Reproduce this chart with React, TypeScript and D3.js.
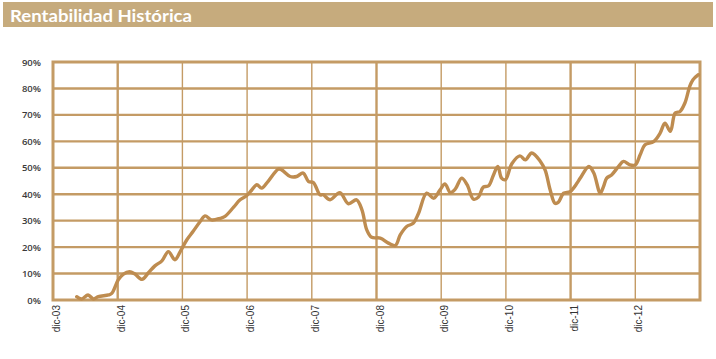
import React from "react";
import * as d3 from "d3";

const title = "Rentabilidad Histórica";
const tickLabels = ["dic-03", "dic-04", "dic-05", "dic-06", "dic-07", "dic-08", "dic-09", "dic-10", "dic-11", "dic-12"];
const yTicks = [0, 10, 20, 30, 40, 50, 60, 70, 80, 90];
// months elapsed since dic-03
const monthOffset = [
  4.4, 5.3, 6.5, 7.5, 8.4, 10.3, 10.9, 12.1, 13, 14.2, 15.2, 16.5, 17.7, 18.9, 20.2, 21.4, 22.6, 23.6,
  24.8, 26, 27.3, 28.2, 29.4, 31, 31.9, 33.5, 34.7, 35.9, 36.9, 37.8, 38.7, 39.9, 41.8, 42.4, 44, 45.2,
  46.4, 47.4, 48.3, 49.5, 50.1, 51.4, 53.2, 54.8, 56.3, 57.3, 58.2, 59.1, 60.7, 62.2, 63.5, 64.4, 65.6,
  66.8, 67.8, 69.3, 70.6, 71.8, 72.7, 73.7, 74.6, 75.8, 76.8, 78, 78.9, 79.8, 80.8, 81.7, 82.5, 83.2,
  83.9, 85.1, 86.6, 87.6, 88.8, 90.4, 91.3, 92.2, 93.1, 93.7, 94.7, 95.9, 97.2, 97.8, 99.4, 100.3, 101.5,
  102.1, 102.7, 103.6, 104.9, 105.8, 107, 108, 108.9, 109.8, 111.4, 112.6, 113.5, 114.5, 115.4, 116.3,
  117.2, 118.1, 118.7, 119.7,
];
const rentabilidad = [
  1.25, 0.4, 1.9, 0.4, 1.3, 1.9, 2.5, 7.6, 9.7, 10.7, 9.8, 7.8, 10.3, 12.9, 14.8, 18.3, 15.2, 18.3,
  22.7, 26, 29.7, 31.8, 30.3, 30.9, 31.6, 35.1, 37.9, 39.4, 41.7, 43.6, 42.3, 44.9, 49.5, 49.2, 46.7, 46.7,
  48, 44.8, 44.4, 39.8, 39.8, 37.9, 40.6, 36.4, 37.9, 34.1, 26.5, 23.7, 23.4, 21.5, 20.6, 24.6, 27.8,
  29, 32.8, 40.4, 38.5, 41.7, 43.9, 40.6, 41.9, 46.1, 43.6, 38.1, 38.9, 42.7, 43.2, 47.3, 50.5, 46.1,
  45.5, 51.5, 54.5, 53, 55.6, 52.4, 49, 41.7, 36.6, 36.9, 40.4, 41, 44.2, 46.1, 50.5, 48, 40.4,
  42.9, 46.1, 47.3, 50.5, 52.4, 51.1, 51.1, 54.9, 58.7, 59.9, 63.1, 66.9, 63.8, 70.7, 71.3,
  74.5, 80.8, 83.3, 85.2,
];

const W = 716;
const H = 359;
const GRID = "#C49B65";
const LINE = "#BE8C50";
const BAR = "#C6AB7D";

export default function App() {
  const left = 53, right = 700, top = 62, bottom = 300;
  const x = d3.scaleLinear().domain([0, 120]).range([left, right]);
  const y = d3.scaleLinear().domain([0, 90]).range([bottom, top]);
  const pts = monthOffset.map((m, i) => [m, rentabilidad[i]] as [number, number]);
  const line = d3
    .line<[number, number]>()
    .x((d) => x(d[0]))
    .y((d) => y(d[1]))
    .curve(d3.curveCatmullRom.alpha(0.5));
  const thickV = new Set([1, 5, 8]);
  return (
    <svg width={W} height={H} style={{ position: "absolute", left: 0, top: 0, background: "#fff" }}>
      <rect x={3} y={2} width={710} height={25} fill={BAR} />
      <text x={10} y={22} fill="#fff" fontFamily="Lato, 'Open Sans', sans-serif" fontWeight={700} fontSize={17.5} textLength={182} lengthAdjust="spacingAndGlyphs">
        {title}
      </text>
      {yTicks.map((t) => (
        <g key={"y" + t}>
          {t > 0 && t < 90 && (
            <line x1={left} x2={right} y1={y(t)} y2={y(t)} stroke={GRID} strokeWidth={2.4} />
          )}
          <text x={41} y={y(t) + 3.5} textAnchor="end" fontFamily="'Open Sans', sans-serif" fontWeight={600} fontSize={9.5} fill="#3a3a3a">
            {t}%
          </text>
        </g>
      ))}
      {tickLabels.map((lab, i) => (
        <g key={lab}>
          {i > 0 && (
            <line x1={x(i * 12)} x2={x(i * 12)} y1={top} y2={bottom} stroke={GRID} strokeWidth={thickV.has(i) ? 2.4 : 1.4} />
          )}
          <text
            transform={`translate(${x(i * 12) + 7},${305}) rotate(-90)`}
            textAnchor="end"
            fontFamily="'Liberation Sans', Arial, sans-serif"
            fontSize={10}
            fill="#333"
          >
            {lab}
          </text>
        </g>
      ))}
      <rect x={left} y={top} width={right - left} height={bottom - top} fill="none" stroke={GRID} strokeWidth={3} />
      <path d={line(pts) || ""} fill="none" stroke={LINE} strokeWidth={3.4} strokeLinejoin="round" strokeLinecap="round" />
    </svg>
  );
}
